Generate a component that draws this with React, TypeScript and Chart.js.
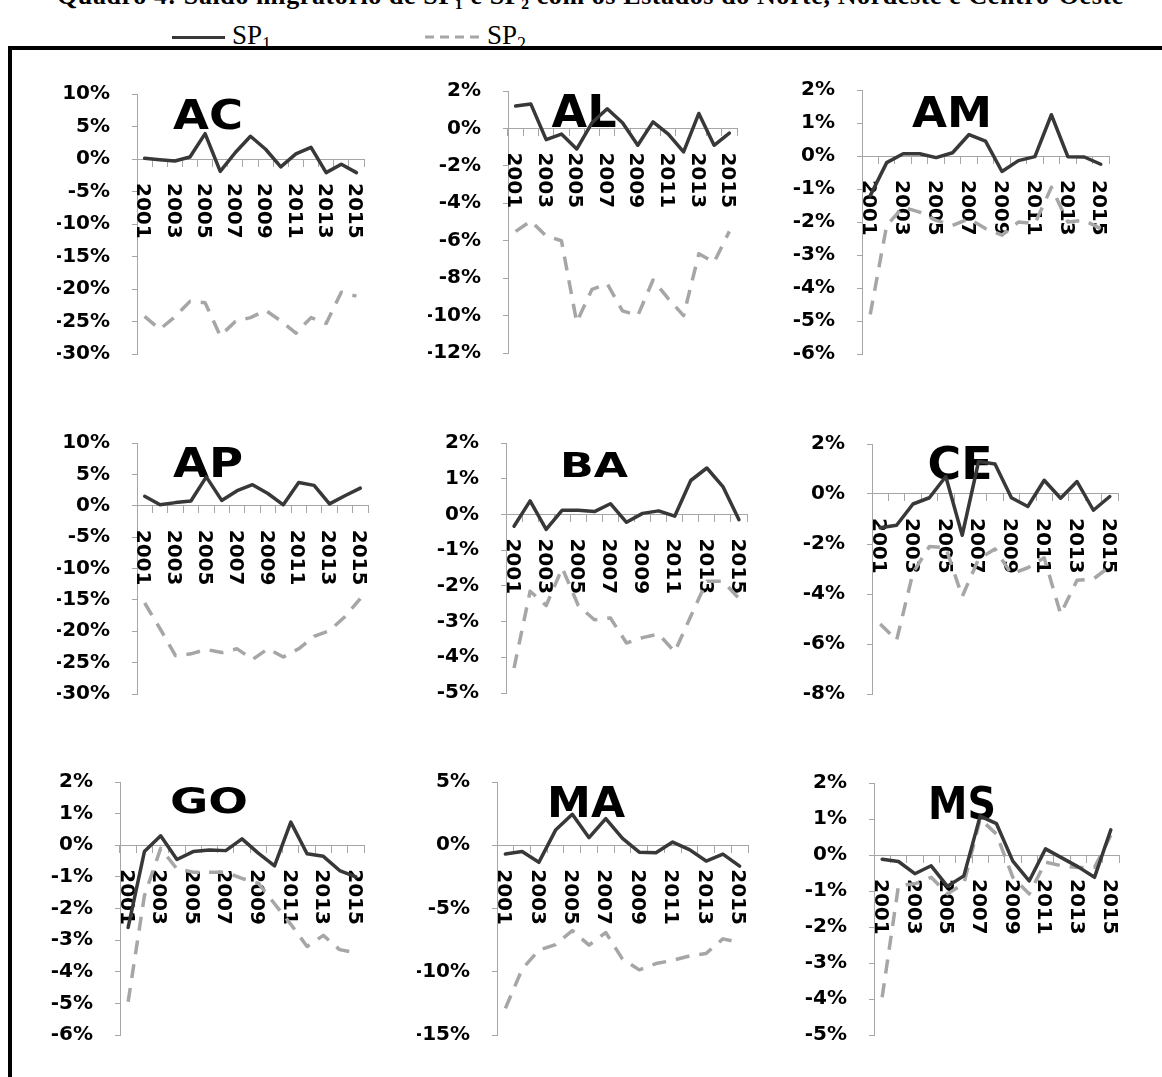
import React, { useEffect, useRef } from "react";
import { Chart, registerables } from "chart.js";

Chart.register(...registerables);

// ---------- DATA ----------
const YEARS = ["2001", "2002", "2003", "2004", "2005", "2006", "2007", "2008", "2009", "2010", "2011", "2012", "2013", "2014", "2015"];
const YEAR_TICK_LABELS = ["2001", "2003", "2005", "2007", "2009", "2011", "2013", "2015"];
const SERIES_NAMES = ["SP", "SP"];
const SERIES_SUBS = ["1", "2"];

const AC_SP1 = [0.1, -0.1, -0.3, 0.3, 3.9, -1.9, 1.0, 3.5, 1.5, -1.2, 0.8, 1.8, -2.1, -0.8, -2.1];
const AC_SP2 = [-24.2, -26.2, -24.3, -21.9, -22.1, -27.2, -25.0, -24.4, -23.3, -24.9, -26.8, -24.4, -25.3, -20.5, -21.1];
const AC_Y = [-30, 10, 5];

const AL_SP1 = [1.2, 1.3, -0.6, -0.3, -1.1, 0.3, 1.05, 0.3, -0.9, 0.35, -0.3, -1.25, 0.8, -0.9, -0.25];
const AL_SP2 = [-5.5, -4.95, -5.75, -6.0, -10.35, -8.6, -8.3, -9.75, -10.0, -8.1, -9.1, -10.0, -6.7, -7.15, -5.5];
const AL_Y = [-12, 2, 2];

const AM_SP1 = [-1.2, -0.2, 0.07, 0.07, -0.05, 0.1, 0.65, 0.45, -0.47, -0.14, -0.02, 1.25, -0.02, -0.03, -0.25];
const AM_SP2 = [-4.8, -2.1, -1.55, -1.7, -1.95, -2.1, -1.9, -2.2, -2.4, -2.0, -2.05, -0.95, -2.0, -1.95, -2.2];
const AM_Y = [-6, 2, 1];

const AP_SP1 = [1.5, 0.15, 0.5, 0.75, 4.6, 0.85, 2.4, 3.35, 1.95, 0.15, 3.7, 3.25, 0.3, 1.6, 2.8];
const AP_SP2 = [-15.5, -19.6, -23.9, -23.6, -22.9, -23.4, -22.8, -24.5, -22.8, -24.1, -22.8, -20.8, -19.9, -17.7, -14.8];
const AP_Y = [-30, 10, 5];

const BA_SP1 = [-0.33, 0.38, -0.42, 0.12, 0.12, 0.08, 0.3, -0.22, 0.03, 0.1, -0.05, 0.95, 1.3, 0.78, -0.15];
const BA_SP2 = [-4.3, -2.15, -2.55, -1.5, -2.55, -2.95, -2.9, -3.6, -3.45, -3.35, -3.85, -2.85, -1.87, -1.87, -2.35];
const BA_Y = [-5, 2, 1];

const CE_SP1 = [-1.35, -1.25, -0.4, -0.15, 0.7, -1.65, 1.3, 1.2, -0.15, -0.5, 0.55, -0.17, 0.5, -0.65, -0.1];
const CE_SP2 = [-5.2, -5.85, -3.15, -2.1, -2.15, -4.1, -2.6, -2.2, -3.2, -2.95, -2.55, -4.8, -3.45, -3.4, -2.9];
const CE_Y = [-8, 2, 2];

const GO_SP1 = [-2.6, -0.2, 0.3, -0.45, -0.2, -0.15, -0.17, 0.2, -0.25, -0.65, 0.73, -0.27, -0.35, -0.8, -1.0];
const GO_SP2 = [-4.95, -1.6, -0.1, -0.75, -0.85, -0.85, -0.85, -1.05, -1.2, -1.85, -2.5, -3.2, -2.85, -3.3, -3.4];
const GO_Y = [-6, 2, 1];

const MA_SP1 = [-0.7, -0.5, -1.35, 1.2, 2.45, 0.6, 2.1, 0.55, -0.55, -0.6, 0.25, -0.35, -1.25, -0.7, -1.65];
const MA_SP2 = [-12.9, -9.8, -8.3, -7.85, -6.75, -7.9, -6.9, -9.0, -9.85, -9.35, -9.1, -8.75, -8.55, -7.4, -7.7];
const MA_Y = [-15, 5, 5];

const MS_SP1 = [-0.12, -0.18, -0.52, -0.3, -0.87, -0.58, 1.08, 0.87, -0.17, -0.72, 0.17, -0.08, -0.33, -0.62, 0.7];
const MS_SP2 = [-3.95, -0.85, -0.8, -0.62, -1.08, -0.8, 1.0, 0.58, -0.62, -1.08, -0.2, -0.3, -0.35, -0.35, 0.55];
const MS_Y = [-5, 2, 1];

const PANELS = [
  { name: "AC", sp1: AC_SP1, sp2: AC_SP2, y: AC_Y },
  { name: "AL", sp1: AL_SP1, sp2: AL_SP2, y: AL_Y },
  { name: "AM", sp1: AM_SP1, sp2: AM_SP2, y: AM_Y },
  { name: "AP", sp1: AP_SP1, sp2: AP_SP2, y: AP_Y },
  { name: "BA", sp1: BA_SP1, sp2: BA_SP2, y: BA_Y },
  { name: "CE", sp1: CE_SP1, sp2: CE_SP2, y: CE_Y },
  { name: "GO", sp1: GO_SP1, sp2: GO_SP2, y: GO_Y },
  { name: "MA", sp1: MA_SP1, sp2: MA_SP2, y: MA_Y },
  { name: "MS", sp1: MS_SP1, sp2: MS_SP2, y: MS_Y },
];

// ---------- LAYOUT (plot-area boxes & title placement) ----------
const LAYOUT: Record<string, any> = {
  AC: { ax: 137, ar: 364, at: 80, ab: 368, dx: 71, dy: 5, tw: 70, th: 30 },
  AL: { ax: 508, ar: 737, at: 77, ab: 367, dx: 76, dy: 3, tw: 65, th: 33 },
  AM: { ax: 862, ar: 1109, at: 76, ab: 368, dx: 90, dy: 6, tw: 80, th: 31 },
  AP: { ax: 137, ar: 368, at: 429, ab: 708, dx: 71, dy: 4, tw: 70, th: 30 },
  BA: { ax: 506, ar: 747, at: 429, ab: 707, dx: 88, dy: 9, tw: 68, th: 25 },
  CE: { ax: 872, ar: 1118, at: 430, ab: 708, dx: 88, dy: 3, tw: 65, th: 32 },
  GO: { ax: 120, ar: 364, at: 768, ab: 1049, dx: 89, dy: 5, tw: 78, th: 26 },
  MA: { ax: 497, ar: 748, at: 768, ab: 1049, dx: 89, dy: 4, tw: 78, th: 31 },
  MS: { ax: 874, ar: 1119, at: 769, ab: 1049, dx: 88, dy: 4, tw: 68, th: 32 },
};

const FONT = '"DejaVu Sans"';
const SP1_COLOR = "#383838";
const SP2_COLOR = "#a6a6a6";
const AXIS_COLOR = "#a6a6a6";

const YW = 80;
const PT = 20;
const PB = 20;
const PR = 4;

function Panel({ def }: { def: any }) {
  const ref = useRef<HTMLCanvasElement>(null);
  const L = LAYOUT[def.name];
  const left = L.ax - YW;
  const top = L.at - PT;
  const width = L.ar - L.ax + YW + PR;
  const height = L.ab - L.at + PT + PB;

  useEffect(() => {
    if (!ref.current) return;
    const decor = {
      id: "panelDecor",
      beforeDatasetsDraw(chart: any) {
        const { ctx, chartArea, scales } = chart;
        const xs = scales.x;
        const ys = scales.y;
        // panel title
        ctx.save();
        const fs = L.th / 0.729;
        ctx.font = `bold ${fs}px ${FONT}`;
        const w = ctx.measureText(def.name).width;
        ctx.translate(chartArea.left + L.dx, chartArea.top + L.dy + L.th);
        ctx.scale(L.tw / w, 1);
        ctx.textAlign = "center";
        ctx.textBaseline = "alphabetic";
        ctx.fillStyle = "#000";
        ctx.fillText(def.name, 0, 0);
        ctx.restore();
        // rotated year labels
        const y0 = ys.getPixelForValue(0);
        ctx.save();
        ctx.font = `bold 20px ${FONT}`;
        ctx.fillStyle = "#000";
        YEAR_TICK_LABELS.forEach((lab) => {
          const i = YEARS.indexOf(lab);
          const x = xs.getPixelForValue(i);
          ctx.save();
          ctx.translate(x, y0 + 24);
          ctx.rotate(Math.PI / 2);
          ctx.textAlign = "left";
          ctx.textBaseline = "alphabetic";
          ctx.fillText(lab, 0, 7.3);
          ctx.restore();
        });
        ctx.restore();
      },
    };

    const chart = new Chart(ref.current, {
      type: "line",
      data: {
        labels: YEARS,
        datasets: [
          {
            label: "SP1",
            data: def.sp1,
            borderColor: SP1_COLOR,
            borderWidth: 3.5,
            pointRadius: 0,
            borderJoinStyle: "round",
            borderCapStyle: "round",
            tension: 0,
            fill: false,
          },
          {
            label: "SP2",
            data: def.sp2,
            borderColor: SP2_COLOR,
            borderWidth: 3.5,
            borderDash: [14, 10],
            pointRadius: 0,
            borderJoinStyle: "round",
            borderCapStyle: "butt",
            tension: 0,
            fill: false,
          },
        ],
      },
      options: {
        animation: false,
        responsive: false,
        devicePixelRatio: 1,
        layout: { padding: { top: PT, bottom: PB, left: 0, right: PR } },
        plugins: {
          legend: { display: false },
          tooltip: { enabled: false },
          title: { display: false },
        },
        scales: {
          x: {
            type: "category",
            offset: true,
            position: { y: 0 } as any,
            ticks: { display: false, autoSkip: false },
            grid: {
              offset: true,
              drawOnChartArea: false,
              drawTicks: true,
              tickLength: 7,
              color: AXIS_COLOR,
              lineWidth: 1,
            },
            border: { display: true, color: AXIS_COLOR, width: 1 },
          },
          y: {
            min: def.y[0],
            max: def.y[1],
            afterFit: (scale: any) => {
              scale.width = YW;
            },
            ticks: {
              stepSize: def.y[2],
              autoSkip: false,
              padding: 22,
              color: "#000",
              font: { family: "DejaVu Sans", size: 20, weight: "bold" },
              callback: (v: any) => `${v}%`,
            },
            grid: {
              drawOnChartArea: false,
              drawTicks: true,
              tickLength: 5,
              color: AXIS_COLOR,
              lineWidth: 1,
            },
            border: { display: true, color: AXIS_COLOR, width: 1 },
          },
        },
      } as any,
      plugins: [decor],
    });
    return () => chart.destroy();
  }, []);

  return (
    <canvas
      ref={ref}
      width={width}
      height={height}
      style={{ position: "absolute", left, top, width, height }}
    />
  );
}

export default function App() {
  return (
    <div
      style={{
        position: "absolute",
        left: 0,
        top: 0,
        width: 1162,
        height: 1077,
        overflow: "hidden",
        background: "#fff",
      }}
    >
      <div
        style={{
          position: "absolute",
          left: 57,
          top: -17,
          font: 'bold 26px "Liberation Serif"',
          lineHeight: "26px",
          letterSpacing: "0.6px",
          whiteSpace: "nowrap",
          color: "#000",
        }}
      >
        Quadro 4: Saldo migratório de SP₁ e SP₂ com os Estados do Norte, Nordeste e Centro-Oeste
      </div>

      {/* legend */}
      <div style={{ position: "absolute", left: 172, top: 36, width: 53, height: 3, background: SP1_COLOR }} />
      <div
        style={{
          position: "absolute",
          left: 232,
          top: 22,
          font: '27px "Liberation Serif"',
          lineHeight: "27px",
          whiteSpace: "nowrap",
        }}
      >
        {SERIES_NAMES[0]}
        <sub style={{ fontSize: 18 }}>{SERIES_SUBS[0]}</sub>
      </div>
      <svg style={{ position: "absolute", left: 425, top: 33 }} width={56} height={8}>
        <line x1={0} y1={4} x2={56} y2={4} stroke={SP2_COLOR} strokeWidth={3} strokeDasharray="9 6" />
      </svg>
      <div
        style={{
          position: "absolute",
          left: 487,
          top: 22,
          font: '27px "Liberation Serif"',
          lineHeight: "27px",
          whiteSpace: "nowrap",
        }}
      >
        {SERIES_NAMES[1]}
        <sub style={{ fontSize: 18 }}>{SERIES_SUBS[1]}</sub>
      </div>

      {/* frame */}
      <div
        style={{
          position: "absolute",
          left: 8,
          top: 46,
          width: 1300,
          height: 1200,
          border: "4px solid #000",
        }}
      />

      {PANELS.map((p) => (
        <Panel key={p.name} def={p} />
      ))}
    </div>
  );
}
